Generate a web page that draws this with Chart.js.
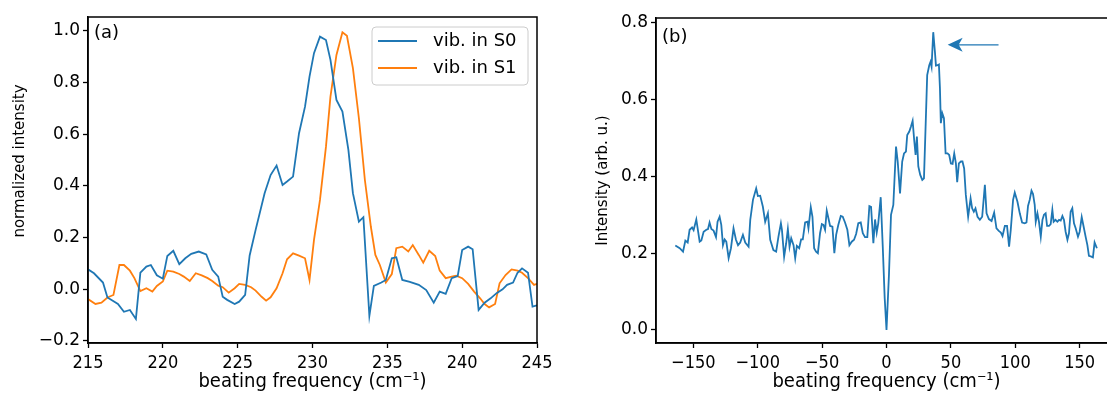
<!DOCTYPE html>
<html>
<head>
<meta charset="utf-8">
<script src="https://cdn.jsdelivr.net/npm/chart.js@4.4.1/dist/chart.umd.min.js"></script>
<style>
  html, body { margin: 0; padding: 0; background: #fff; width: 1107px; height: 394px; overflow: hidden; }
  #wrapA { position: absolute; left: 0; top: 0; width: 560px; height: 394px; }
  #wrapB { position: absolute; left: 580px; top: 0; width: 560px; height: 394px; }
</style>
</head>
<body>
<div id="wrapA"><canvas id="chartA" width="560" height="394"></canvas></div>
<div id="wrapB"><canvas id="chartB" width="560" height="394"></canvas></div>
<script>
// panel (a): vibration in S0 (blue) and S1 (orange)
const s0Freq = [215, 215.4, 216.0, 216.3, 217.0, 217.4, 217.8, 218.2, 218.5, 218.9, 219.2, 219.6, 220.0, 220.3, 220.7, 221.1, 221.5, 221.9, 222.4, 222.9, 223.3, 223.7, 224.0, 224.3, 224.8, 225.1, 225.5, 225.8, 226.2, 226.8, 227.2, 227.6, 228.0, 228.3, 228.7, 229.1, 229.5, 229.8, 230.1, 230.5, 230.9, 231.2, 231.6, 232.0, 232.4, 232.7, 233.1, 233.4, 233.8, 234.1, 234.6, 234.9, 235.3, 235.6, 236.0, 236.5, 237.1, 237.6, 238.1, 238.5, 238.9, 239.3, 239.7, 240.0, 240.4, 240.7, 241.1, 241.5, 241.9, 242.3, 242.7, 243.0, 243.4, 243.7, 244.0, 244.4, 244.7, 245.0];
const s0Vals = [0.077, 0.062, 0.026, -0.032, -0.057, -0.087, -0.080, -0.115, 0.064, 0.088, 0.094, 0.054, 0.041, 0.129, 0.149, 0.097, 0.120, 0.137, 0.146, 0.135, 0.075, 0.049, -0.029, -0.041, -0.057, -0.048, -0.022, 0.131, 0.230, 0.372, 0.442, 0.479, 0.404, 0.417, 0.436, 0.604, 0.707, 0.823, 0.914, 0.978, 0.965, 0.888, 0.733, 0.688, 0.539, 0.372, 0.262, 0.279, -0.103, 0.013, 0.026, 0.036, 0.120, 0.124, 0.036, 0.029, 0.017, -0.003, -0.052, -0.009, -0.018, 0.043, 0.051, 0.152, 0.165, 0.155, -0.080, -0.052, -0.035, -0.015, 0.000, 0.017, 0.026, 0.064, 0.081, 0.064, -0.067, -0.062];
const s1Freq = [215, 215.5, 215.9, 216.3, 216.7, 217.1, 217.4, 217.8, 218.1, 218.5, 218.9, 219.3, 219.6, 220.0, 220.3, 220.7, 221.1, 221.4, 221.8, 222.2, 222.6, 223.0, 223.3, 223.7, 224.0, 224.4, 224.8, 225.1, 225.5, 225.9, 226.2, 226.6, 226.9, 227.2, 227.6, 228.0, 228.3, 228.7, 229.1, 229.5, 229.8, 230.1, 230.5, 230.9, 231.2, 231.6, 232.0, 232.3, 232.7, 233.1, 233.5, 233.9, 234.2, 234.5, 234.9, 235.3, 235.6, 236.0, 236.4, 236.7, 237.1, 237.4, 237.8, 238.2, 238.5, 238.9, 239.3, 239.6, 240.0, 240.4, 240.8, 241.2, 241.5, 241.8, 242.2, 242.5, 242.9, 243.3, 243.7, 244.0, 244.4, 244.8, 245.0];
const s1Vals = [-0.038, -0.057, -0.052, -0.032, -0.022, 0.094, 0.094, 0.072, 0.043, -0.007, 0.004, -0.009, 0.013, 0.030, 0.072, 0.068, 0.059, 0.049, 0.032, 0.062, 0.054, 0.043, 0.032, 0.014, 0.008, -0.013, 0.004, 0.021, 0.017, 0.008, -0.005, -0.029, -0.044, -0.031, 0.004, 0.062, 0.116, 0.139, 0.130, 0.120, 0.036, 0.191, 0.346, 0.552, 0.746, 0.907, 0.995, 0.981, 0.856, 0.662, 0.423, 0.242, 0.133, 0.094, 0.026, 0.059, 0.159, 0.165, 0.146, 0.171, 0.133, 0.103, 0.149, 0.129, 0.072, 0.043, 0.049, 0.053, 0.043, 0.021, -0.009, -0.035, -0.057, -0.070, -0.057, 0.023, 0.055, 0.077, 0.072, 0.064, 0.043, 0.017, 0.021];

// panel (b): intensity spectrum
const bFreq = [-164, -160.6, -158, -156.2, -154.4, -152.9, -151, -149.8, -147.7, -145.1, -143.8, -142, -139.9, -138.6, -137.4, -136, -134.3, -132.4, -131.2, -129.6, -128.3, -127, -125.7, -124.4, -122.6, -120.8, -118.8, -116.9, -115.3, -113.6, -111.5, -109.7, -107.1, -105.8, -103.7, -101.2, -99.9, -98.1, -96, -94.2, -92.1, -90.3, -87.8, -85.7, -83.9, -82, -81.2, -79.5, -77.9, -76.6, -75.3, -74, -72.2, -70.9, -69.6, -67.8, -66.3, -65, -63.2, -61.4, -60.6, -58.8, -57.5, -56.2, -54.7, -53.3, -51.6, -50.2, -49, -47.7, -46.4, -45.1, -43.8, -42, -40.5, -39.1, -37.4, -35.5, -34, -32.2, -30.4, -28.8, -27, -25.2, -23.6, -21.9, -20, -18.4, -16.7, -14.9, -13.3, -12, -10.2, -8.9, -7.6, -6.4, -4.5, -2.9, -1.4, 0, 1.9, 3.5, 5.3, 7.4, 8.7, 10.5, 12.2, 13.6, 15.1, 16.1, 17.7, 19, 20.3, 21.5, 22.6, 23.6, 24.7, 26.2, 27.8, 29.1, 30.4, 31.6, 33.2, 34.2, 35, 36.3, 37.6, 38.4, 39.7, 40.7, 41.5, 42.2, 43.3, 44.6, 45.9, 47.4, 48.7, 50, 51.3, 52.6, 53.9, 54.9, 56.2, 57.8, 59, 60.3, 61.6, 63.4, 65.3, 66.5, 67.8, 69.1, 70.7, 72.5, 74.3, 76.4, 77.7, 79.5, 81.6, 83.6, 85.4, 87.2, 88.8, 90.1, 91.9, 93.6, 95.2, 96.5, 98.3, 99.6, 101.7, 103.5, 105.3, 107.4, 108.7, 109.9, 111.2, 112.6, 113.8, 115.1, 115.9, 117.2, 118.4, 119.8, 121.1, 122.3, 123.6, 124.7, 126.2, 127.5, 128.8, 129.8, 131.2, 132.7, 134, 135.3, 136.6, 137.8, 139.1, 140.5, 141.7, 143, 144.3, 145.6, 146.9, 148.7, 150, 151.6, 153.1, 154.7, 156, 157.2, 159.1, 160.3, 161.6, 163.4];
const bVals = [0.22, 0.213, 0.204, 0.233, 0.228, 0.261, 0.267, 0.26, 0.288, 0.23, 0.233, 0.256, 0.261, 0.263, 0.28, 0.263, 0.259, 0.242, 0.282, 0.295, 0.274, 0.221, 0.236, 0.23, 0.187, 0.213, 0.265, 0.235, 0.221, 0.228, 0.248, 0.228, 0.217, 0.287, 0.339, 0.369, 0.349, 0.35, 0.321, 0.282, 0.304, 0.235, 0.208, 0.204, 0.243, 0.278, 0.261, 0.191, 0.226, 0.263, 0.217, 0.239, 0.221, 0.187, 0.219, 0.213, 0.236, 0.236, 0.28, 0.282, 0.265, 0.32, 0.295, 0.213, 0.204, 0.2, 0.252, 0.276, 0.274, 0.261, 0.311, 0.291, 0.271, 0.269, 0.2, 0.248, 0.274, 0.297, 0.295, 0.28, 0.261, 0.221, 0.23, 0.235, 0.25, 0.278, 0.28, 0.252, 0.242, 0.242, 0.323, 0.321, 0.226, 0.288, 0.254, 0.278, 0.346, 0.217, 0.083, 0.0, 0.143, 0.3, 0.326, 0.478, 0.439, 0.356, 0.439, 0.46, 0.465, 0.508, 0.517, 0.53, 0.545, 0.495, 0.456, 0.504, 0.426, 0.404, 0.391, 0.395, 0.534, 0.664, 0.69, 0.699, 0.686, 0.776, 0.725, 0.689, 0.69, 0.692, 0.63, 0.539, 0.565, 0.552, 0.46, 0.46, 0.456, 0.434, 0.433, 0.46, 0.434, 0.385, 0.434, 0.439, 0.439, 0.421, 0.352, 0.295, 0.343, 0.317, 0.308, 0.317, 0.295, 0.287, 0.295, 0.378, 0.304, 0.289, 0.284, 0.306, 0.265, 0.258, 0.254, 0.245, 0.271, 0.271, 0.217, 0.261, 0.339, 0.358, 0.334, 0.304, 0.28, 0.278, 0.28, 0.323, 0.339, 0.363, 0.354, 0.326, 0.282, 0.304, 0.282, 0.243, 0.287, 0.3, 0.304, 0.271, 0.271, 0.276, 0.313, 0.282, 0.287, 0.282, 0.287, 0.285, 0.297, 0.287, 0.256, 0.235, 0.252, 0.308, 0.317, 0.278, 0.265, 0.243, 0.256, 0.294, 0.269, 0.242, 0.221, 0.193, 0.191, 0.189, 0.228, 0.213];

const aXTicks = [215, 220, 225, 230, 235, 240, 245];
const aYTicks = [-0.2, 0.0, 0.2, 0.4, 0.6, 0.8, 1.0];
const bXTicks = [-150, -100, -50, 0, 50, 100, 150];
const bYTicks = [0.0, 0.2, 0.4, 0.6, 0.8];

// arrow in (b), pointing at the main peak (data units)
const arrowFrom = [87, 0.743];
const arrowTo = [47.5, 0.743];

const BLUE = '#1f77b4';
const ORANGE = '#ff7f0e';
const FONT = "'DejaVu Sans', sans-serif";
const NARROW = "'DejaVu Sans Condensed', 'Liberation Sans Narrow', 'DejaVu Sans', sans-serif";

Chart.defaults.font.family = FONT;
Chart.defaults.color = '#000';

function toPoints(xs, ys) {
    return xs.map((x, i) => ({ x: x, y: ys[i] }));
}

function minus(s) {
    return String(s).replace('-', '\u2212');
}

// matplotlib-like axis settings
function axis(opts) {
    return {
        type: 'linear',
        min: opts.min,
        max: opts.max,
        afterBuildTicks: scale => { scale.ticks = opts.ticks.map(v => ({ value: v })); },
        afterFit: scale => {
            if (opts.height) scale.height = opts.height;
            if (opts.width) scale.width = opts.width;
        },
        grid: { drawOnChartArea: false, drawTicks: true, tickLength: 5, tickColor: '#000', tickWidth: 1.3 },
        border: { display: true, color: '#000', width: 1.5 },
        ticks: {
            color: '#000',
            font: { size: opts.tickSize || 17, family: opts.family || FONT },
            padding: opts.tickPad || 3,
            maxRotation: 0,
            autoSkip: false,
            callback: opts.fmt
        },
        title: {
            display: !!opts.title,
            text: opts.title,
            color: '#000',
            font: { size: opts.titleSize || 17, family: opts.family || FONT },
            padding: opts.titlePad
        }
    };
}

const framePlugin = {
    id: 'frame',
    afterDraw(chart) {
        const { ctx, chartArea: a } = chart;
        const o = chart.options.plugins.frame;
        ctx.save();
        ctx.strokeStyle = '#000';
        ctx.lineWidth = 1.5;
        ctx.strokeRect(a.left, a.top, a.right - a.left, a.bottom - a.top);
        // panel letter
        ctx.fillStyle = '#000';
        ctx.font = '18px ' + FONT;
        ctx.textBaseline = 'middle';
        ctx.textAlign = 'left';
        ctx.fillText(o.letter, a.left + 6, a.top + o.letterDy);
        // y label drawn by hand when it is not centred on the axis
        if (o.yLabel) {
            ctx.translate(o.yLabelX, o.yLabelY);
            ctx.rotate(-Math.PI / 2);
            ctx.textAlign = 'center';
            ctx.font = '15px ' + FONT;
            ctx.fillText(o.yLabel, 0, 0);
        }
        ctx.restore();
    }
};

const legendPlugin = {
    id: 'boxLegend',
    afterDatasetsDraw(chart) {
        const { ctx, chartArea: a } = chart;
        const w = 156, h = 58;
        const x = a.right - 9 - w, y = a.top + 10;
        ctx.save();
        ctx.beginPath();
        ctx.roundRect(x, y, w, h, 4);
        ctx.fillStyle = 'rgba(255,255,255,0.8)';
        ctx.fill();
        ctx.strokeStyle = '#cccccc';
        ctx.lineWidth = 1;
        ctx.stroke();
        ctx.font = '18px ' + FONT;
        ctx.textBaseline = 'middle';
        chart.data.datasets.forEach((ds, i) => {
            const ly = y + 14 + i * 27;
            ctx.strokeStyle = ds.borderColor;
            ctx.lineWidth = 1.8;
            ctx.beginPath();
            ctx.moveTo(x + 6, ly);
            ctx.lineTo(x + 45, ly);
            ctx.stroke();
            ctx.fillStyle = '#000';
            ctx.fillText(ds.label, x + 61, ly);
        });
        ctx.restore();
    }
};

const arrowPlugin = {
    id: 'arrow',
    afterDatasetsDraw(chart) {
        const { ctx, scales: { x, y } } = chart;
        const x0 = x.getPixelForValue(arrowFrom[0]), y0 = y.getPixelForValue(arrowFrom[1]);
        const x1 = x.getPixelForValue(arrowTo[0]), y1 = y.getPixelForValue(arrowTo[1]);
        ctx.save();
        ctx.strokeStyle = BLUE;
        ctx.fillStyle = BLUE;
        ctx.lineWidth = 1.3;
        ctx.beginPath();
        ctx.moveTo(x0, y0);
        ctx.lineTo(x1 + 10, y1);
        ctx.stroke();
        ctx.beginPath();
        ctx.moveTo(x1, y1);
        ctx.lineTo(x1 + 15, y1 - 7);
        ctx.lineTo(x1 + 11, y1);
        ctx.lineTo(x1 + 15, y1 + 7);
        ctx.closePath();
        ctx.fill();
        ctx.restore();
    }
};

const lineStyle = { borderWidth: 1.8, pointRadius: 0, tension: 0, fill: false };
const xTitle = 'beating frequency (cm\u207B\u00B9)';

new Chart(document.getElementById('chartA'), {
    type: 'line',
    data: {
        datasets: [
            Object.assign({ label: 'vib. in S0', data: toPoints(s0Freq, s0Vals), borderColor: BLUE }, lineStyle),
            Object.assign({ label: 'vib. in S1', data: toPoints(s1Freq, s1Vals), borderColor: ORANGE }, lineStyle)
        ]
    },
    options: {
        responsive: false,
        animation: false,
        layout: { padding: { top: 17, right: 23, left: 0, bottom: 0 } },
        plugins: {
            legend: { display: false },
            tooltip: { enabled: false },
            frame: { letter: '(a)', letterDy: 16, yLabel: 'normalized intensity', yLabelX: 20, yLabelY: 161 }
        },
        scales: {
            x: axis({ min: 215, max: 245, ticks: aXTicks, height: 51, fmt: v => minus(v),
                      family: NARROW, tickSize: 18, tickPad: 5, titleSize: 20,
                      title: xTitle, titlePad: { top: 0, bottom: 0 } }),
            y: axis({ min: -0.208, max: 1.054, ticks: aYTicks, width: 88, fmt: v => minus(v.toFixed(1)) })
        }
    },
    plugins: [framePlugin, legendPlugin]
});

new Chart(document.getElementById('chartB'), {
    type: 'line',
    data: {
        datasets: [
            Object.assign({ label: 'intensity', data: toPoints(bFreq, bVals), borderColor: BLUE }, lineStyle)
        ]
    },
    options: {
        responsive: false,
        animation: false,
        layout: { padding: { top: 18, right: 23, left: 0, bottom: 0 } },
        plugins: { legend: { display: false }, tooltip: { enabled: false }, frame: { letter: '(b)', letterDy: 19 } },
        scales: {
            x: axis({ min: -179, max: 179, ticks: bXTicks, height: 51, fmt: v => minus(v),
                      family: NARROW, tickSize: 18, tickPad: 5, titleSize: 20,
                      title: xTitle, titlePad: { top: 0, bottom: 0 } }),
            y: axis({ min: -0.034, max: 0.813, ticks: bYTicks, width: 76, fmt: v => minus(v.toFixed(1)),
                      title: 'Intensity (arb. u.)', titleSize: 15, titlePad: { top: 14, bottom: 0 } })
        }
    },
    plugins: [framePlugin, arrowPlugin]
});
</script>
</body>
</html>
